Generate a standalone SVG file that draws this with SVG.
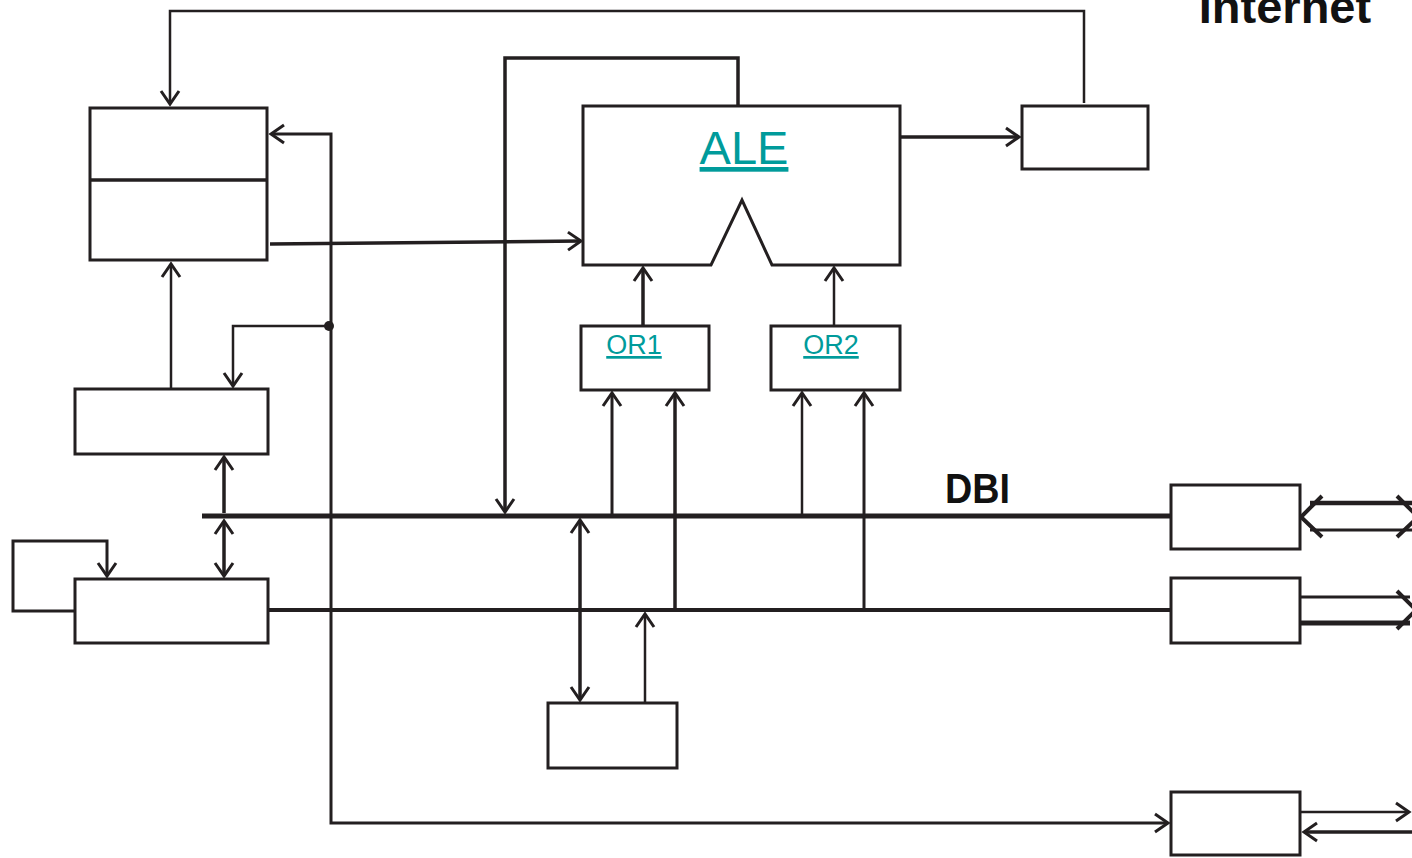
<svg xmlns="http://www.w3.org/2000/svg" width="1412" height="858" viewBox="0 0 1412 858">
<style>
.box{fill:#fff;stroke:#231f20;stroke-width:3}
.ln{fill:none;stroke:#231f20;stroke-linejoin:miter}
.lbl{font-family:"Liberation Sans",Arial,sans-serif;fill:#009b9b;text-decoration:underline}
.bold{font-family:"Liberation Sans",Arial,sans-serif;font-weight:bold;fill:#111}
</style>
<defs>
<marker id="ah" viewBox="-16 -12 20 24" refX="0" refY="0" markerWidth="20" markerHeight="24" markerUnits="userSpaceOnUse" orient="auto-start-reverse">
<path d="M-13,-9 L0,0 L-13,9" fill="none" stroke="#231f20" stroke-width="3"/>
</marker>
</defs>
<rect width="1412" height="858" fill="#fff"/>

<g id="connectors">
<path class="ln" d="M1084,103 V11 H170 V104" stroke-width="2.5" marker-end="url(#ah)"/>
<path class="ln" d="M738,106 V58 H505 V512" stroke-width="3.5" marker-end="url(#ah)"/>
<path class="ln" d="M901,137 H1019" stroke-width="3.5" marker-end="url(#ah)"/>
<path class="ln" d="M270,244 L581,241" stroke-width="3.5" marker-end="url(#ah)"/>
<path class="ln" d="M271,134 H331 V823 H1168" stroke-width="3" marker-start="url(#ah)" marker-end="url(#ah)"/>
<circle cx="329" cy="326" r="5" fill="#231f20"/>
<path class="ln" d="M331,326 H233 V386" stroke-width="2.5" marker-end="url(#ah)"/>
<path class="ln" d="M171,389 V264" stroke-width="2.5" marker-end="url(#ah)"/>
<path class="ln" d="M224,513 V457" stroke-width="3.5" marker-end="url(#ah)"/>
<path class="ln" d="M224,521 V576" stroke-width="3.5" marker-start="url(#ah)" marker-end="url(#ah)"/>
<path class="ln" d="M75,611 H13 V541 H107 V576" stroke-width="3" marker-end="url(#ah)"/>
<path class="ln" d="M202,516 H1171" stroke-width="5"/>
<path class="ln" d="M268,610 H1171" stroke-width="4"/>
<path class="ln" d="M612,516 V393" stroke-width="3" marker-end="url(#ah)"/>
<path class="ln" d="M675,610 V393" stroke-width="3.5" marker-end="url(#ah)"/>
<path class="ln" d="M802,516 V393" stroke-width="2.5" marker-end="url(#ah)"/>
<path class="ln" d="M864,610 V393" stroke-width="3" marker-end="url(#ah)"/>
<path class="ln" d="M643,326 V268" stroke-width="3.5" marker-end="url(#ah)"/>
<path class="ln" d="M834,326 V268" stroke-width="2.5" marker-end="url(#ah)"/>
<path class="ln" d="M580,520 V700" stroke-width="3.5" marker-start="url(#ah)" marker-end="url(#ah)"/>
<path class="ln" d="M645,703 V614" stroke-width="2.5" marker-end="url(#ah)"/>
<path class="ln" d="M1310,503 H1412" stroke-width="4.5"/>
<path class="ln" d="M1310,530 H1412" stroke-width="3"/>
<path class="ln" d="M1322,496 L1301,517 L1322,537" stroke-width="4"/>
<path class="ln" d="M1397,496 L1418,517 L1397,537" stroke-width="4"/>
<path class="ln" d="M1300,597 H1410" stroke-width="3"/>
<path class="ln" d="M1300,623 H1410" stroke-width="5"/>
<path class="ln" d="M1397,591 L1416,610 L1397,629" stroke-width="4"/>
<path class="ln" d="M1300,812 H1409" stroke-width="2.5" marker-end="url(#ah)"/>
<path class="ln" d="M1412,832 H1304" stroke-width="3.5" marker-end="url(#ah)"/>
</g>

<g id="node-topleft">
<rect class="box" x="90" y="108" width="177" height="152"/>
<line x1="90" y1="180" x2="267" y2="180" stroke="#231f20" stroke-width="3.5"/>
</g>
<g id="node-ale">
<path class="box" d="M583,106 H900 V265 H772 L742,200 L711,265 H583 Z"/>
<text class="lbl" x="744" y="164" font-size="47" text-anchor="middle">ALE</text>
</g>
<g id="node-internet">
<rect class="box" x="1022" y="106" width="126" height="63"/>
</g>
<g id="node-or1">
<rect class="box" x="581" y="326" width="128" height="64" stroke-width="3.5"/>
<text class="lbl" x="634" y="354" font-size="27" text-anchor="middle">OR1</text>
</g>
<g id="node-or2">
<rect class="box" x="771" y="326" width="129" height="64" stroke-width="3.5"/>
<text class="lbl" x="831" y="354" font-size="27" text-anchor="middle">OR2</text>
</g>
<g id="node-midleft">
<rect class="box" x="75" y="389" width="193" height="65"/>
</g>
<g id="node-lowleft">
<rect class="box" x="75" y="579" width="193" height="64"/>
</g>
<g id="node-bottom">
<rect class="box" x="548" y="703" width="129" height="65"/>
</g>
<g id="node-right1">
<rect class="box" x="1171" y="485" width="129" height="64"/>
</g>
<g id="node-right2">
<rect class="box" x="1171" y="578" width="129" height="65"/>
</g>
<g id="node-right3">
<rect class="box" x="1171" y="792" width="129" height="63"/>
</g>
<g id="labels">
<text class="bold" x="1285" y="23" font-size="47" text-anchor="middle">Internet</text>
<text class="bold" x="945" y="503" font-size="42" textLength="65" lengthAdjust="spacingAndGlyphs">DBI</text>
</g>
</svg>
